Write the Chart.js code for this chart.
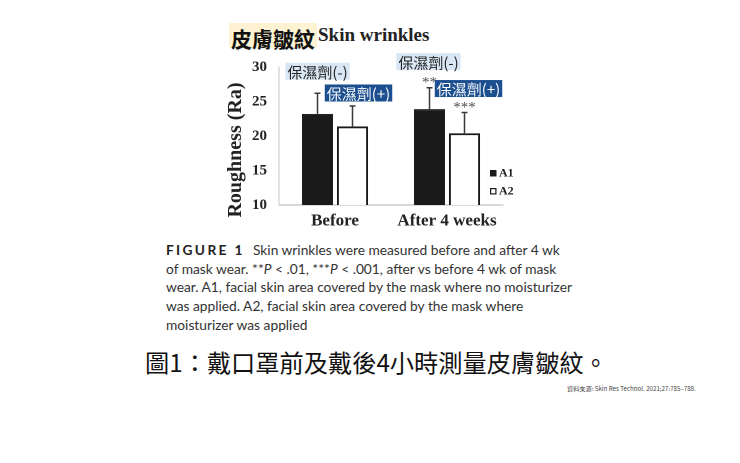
<!DOCTYPE html>
<html>
<head>
<meta charset="utf-8">
<script src="https://cdn.jsdelivr.net/npm/chart.js@4.4.1/dist/chart.umd.min.js"></script>
<style>
  body { margin: 0; background: #fff; width: 740px; height: 463px; position: relative; overflow: hidden; }
  .abs { position: absolute; white-space: nowrap; }
  #titleZh { left: 229px; top: 23px; height: 25px; line-height: 25px; padding: 0 2px; background: #fdf3d2;
    font: bold 21px "Noto Sans CJK TC", sans-serif; color: #111; }
  #titleEn { left: 318px; top: 24px; height: 25px; line-height: 25px;
    font: bold 19px "Liberation Serif", serif; color: #222; }
  #chartBox { left: 220px; top: 46px; width: 300px; height: 189px; }
  #caption { left: 166px; top: 241px; color: #333; font-family: Lato, sans-serif; line-height: 18.7px; }
  #caption .fig { display: inline-block; width: 87px; font-weight: bold; letter-spacing: 0.17em; color: #222; }
  #bigLine { left: 145px; top: 346px; line-height: 32px; font-family: "Noto Sans CJK TC", sans-serif; color: #111; }
  #source { left: 567px; top: 384px; line-height: 10px; font-family: "Noto Sans CJK TC", sans-serif; color: #444; }
</style>
</head>
<body>
<div class="abs" id="titleZh">皮膚皺紋</div>
<div class="abs" id="titleEn">Skin wrinkles</div>
<div class="abs" id="chartBox"><canvas id="chart" width="300" height="189"></canvas></div>
<div class="abs" id="caption">
  <div><span class="fig">FIGURE 1</span>Skin wrinkles were measured before and after 4 wk</div>
  <div>of mask wear. **<i>P</i> &lt; .01, ***<i>P</i> &lt; .001, after vs before 4 wk of mask</div>
  <div id="capFit">wear. A1, facial skin area covered by the mask where no moisturizer</div>
  <div>was applied. A2, facial skin area covered by the mask where</div>
  <div>moisturizer was applied</div>
</div>
<div class="abs" id="bigLine">圖1：戴口罩前及戴後4小時測量皮膚皺紋。</div>
<div class="abs" id="source">資料來源: Skin Res Technol. 2021;27:785–788.</div>

<script>
// chart data
const categories = ["Before", "After 4 weeks"];
const seriesNames = ["A1", "A2"];
const a1Values = [23.2, 23.9];
const a2Values = [21.4, 20.4];
const a1Errors = [3.0, 3.1];
const a2Errors = [2.95, 3.0];
const a1Stars = ["", "**"];
const a2Stars = ["", "***"];
const a1Notes = ["保濕劑(-)", "保濕劑(-)"];
const a2Notes = ["保濕劑(+)", "保濕劑(+)"];
const yTicks = [10, 15, 20, 25, 30];

// note box placement relative to the error bar top (pixels)
const noteOffsets = [
  [{ dx: 0, dy: -22 }, { dx: -1, dy: -26 }],
  [{ dx: 6, dy: -13 }, { dx: 4, dy: -24 }],
];
const noteStyles = [
  { bg: "#d9e6f3", fg: "#222" },
  { bg: "#1c4f90", fg: "#fff" },
];

/**
 * Font size that makes a text run exactly the given width.
 */
const fitSize = (text, font, target) => {
  const ctx = document.createElement("canvas").getContext("2d");
  ctx.font = font.replace("SIZE", "100px");
  return (100 * target) / ctx.measureText(text).width;
};

const capSize = fitSize(document.getElementById("capFit").textContent, "SIZE Lato", 407);
document.getElementById("caption").style.fontSize = capSize + "px";
const big = document.getElementById("bigLine");
big.style.fontSize = fitSize(big.textContent, 'SIZE "Noto Sans CJK TC"', 463) + "px";
const src = document.getElementById("source");
src.style.fontSize = fitSize(src.textContent, 'SIZE "Noto Sans CJK TC"', 129) + "px";

const serif = '"Liberation Serif", serif';

const extrasPlugin = {
  id: "extras",
  afterDatasetsDraw(chart) {
    const { ctx, scales, chartArea } = chart;
    const errors = [a1Errors, a2Errors];
    const stars = [a1Stars, a2Stars];
    const notes = [a1Notes, a2Notes];
    ctx.save();
    chart.data.datasets.forEach((ds, i) => {
      chart.getDatasetMeta(i).data.forEach((bar, j) => {
        const top = scales.y.getPixelForValue(ds.data[j] + errors[i][j]);
        // error bar
        ctx.strokeStyle = "#3a3a3a";
        ctx.lineWidth = 1.5;
        ctx.beginPath();
        ctx.moveTo(bar.x, bar.y);
        ctx.lineTo(bar.x, top);
        ctx.moveTo(bar.x - 3, top);
        ctx.lineTo(bar.x + 3, top);
        ctx.stroke();
        // significance stars
        if (stars[i][j]) {
          ctx.fillStyle = "#555";
          ctx.font = "15px " + serif;
          ctx.textAlign = "center";
          ctx.textBaseline = "middle";
          ctx.fillText(stars[i][j], bar.x, top - 5);
        }
        // moisturizer note box
        const off = noteOffsets[i][j];
        const st = noteStyles[i];
        ctx.font = '15px "Noto Sans CJK TC", sans-serif';
        const w = ctx.measureText(notes[i][j]).width + 4;
        const cx = bar.x + off.dx;
        const cy = top + off.dy;
        ctx.fillStyle = st.bg;
        ctx.fillRect(cx - w / 2, cy - 8.5, w, 17);
        ctx.fillStyle = st.fg;
        ctx.textAlign = "center";
        ctx.textBaseline = "middle";
        ctx.fillText(notes[i][j], cx, cy + 1);
      });
    });
    // legend
    const lx = chartArea.right - 13;
    [[chartArea.bottom - 35, "#1a1a1a"], [chartArea.bottom - 17, "#fff"]].forEach(([ly, fill], k) => {
      ctx.fillStyle = fill;
      ctx.fillRect(lx, ly, 6.5, 6.5);
      ctx.strokeStyle = "#1a1a1a";
      ctx.lineWidth = 1.2;
      ctx.strokeRect(lx + 0.6, ly + 0.6, 5.3, 5.3);
      ctx.fillStyle = "#222";
      ctx.font = "bold 12px " + serif;
      ctx.textAlign = "left";
      ctx.textBaseline = "middle";
      ctx.fillText(seriesNames[k], lx + 9, ly + 3.5);
    });
    // y axis title
    ctx.translate(16, 104);
    ctx.rotate(-Math.PI / 2);
    ctx.fillStyle = "#222";
    ctx.font = "bold 20px " + serif;
    ctx.textAlign = "center";
    ctx.textBaseline = "middle";
    ctx.fillText("Roughness (Ra)", 0, 0);
    ctx.restore();
  },
};

new Chart(document.getElementById("chart"), {
  type: "bar",
  data: {
    labels: categories,
    datasets: [
      { label: seriesNames[0], data: a1Values, backgroundColor: "#1a1a1a", borderColor: "#111", borderWidth: 1 },
      { label: seriesNames[1], data: a2Values, backgroundColor: "#fff", borderColor: "#1a1a1a", borderWidth: 2 },
    ],
  },
  options: {
    responsive: false,
    animation: false,
    devicePixelRatio: 2,
    categoryPercentage: 0.625,
    barPercentage: 0.89,
    layout: { padding: { top: 0, right: 17, bottom: 0, left: 0 } },
    plugins: { legend: { display: false }, tooltip: { enabled: false } },
    scales: {
      x: {
        grid: { display: false, drawTicks: false },
        border: { color: "#b5b5b5", width: 1 },
        ticks: { color: "#222", padding: 6, font: { family: serif, size: 17, weight: "bold" } },
        afterFit: (s) => { s.height = 30; },
      },
      y: {
        min: 10,
        max: 30,
        afterBuildTicks: (s) => { s.ticks = yTicks.map((v) => ({ value: v })); },
        grid: { display: false, drawTicks: false },
        border: { color: "#c4c4c4", width: 1 },
        ticks: { color: "#222", padding: 12, font: { family: serif, size: 15, weight: "bold" } },
        afterFit: (s) => { s.width = 59; },
      },
    },
  },
  plugins: [extrasPlugin],
});
</script>
</body>
</html>
